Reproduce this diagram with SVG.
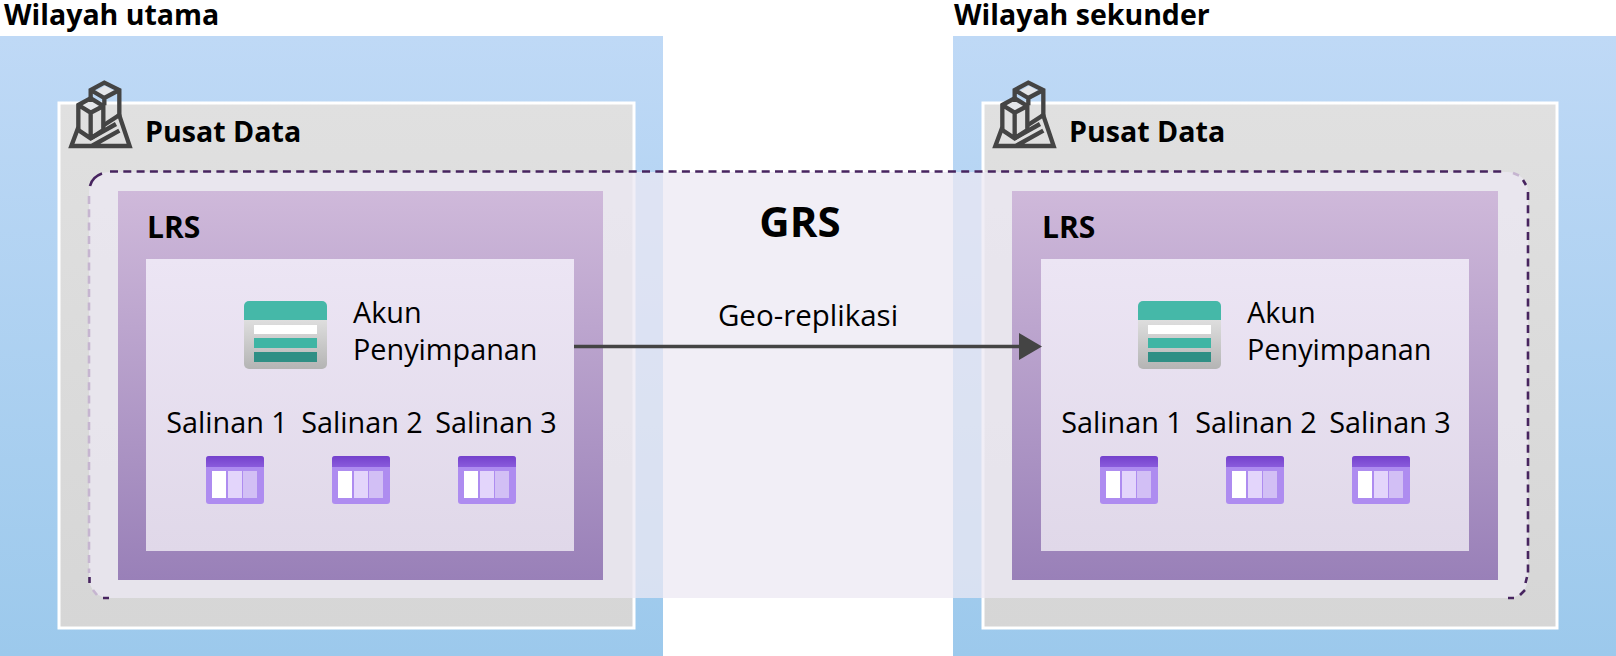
<svg xmlns="http://www.w3.org/2000/svg" width="1616" height="656" viewBox="0 0 1616 656">
<style>
text{font-family:"Open Sans","Noto Sans","Liberation Sans",sans-serif;fill:#000}
.h{font-size:28.5px;font-weight:700}
.b{font-size:28.6px;font-weight:700}
.l{font-size:30px;font-weight:700}
.t{font-size:28.8px}
.dc{fill:none;stroke:#444;stroke-width:13;stroke-linejoin:miter}
.dk{fill:none;stroke:#47245f;stroke-width:2.6}
.fd{fill:none;stroke:#c6b5d0;stroke-width:2.6}
.ds{stroke-dasharray:8 5.3}
</style>
<defs>
<linearGradient id="blue" x1="0" y1="0" x2="0" y2="1"><stop offset="0" stop-color="#bfd9f6"/><stop offset="1" stop-color="#9cc9ec"/></linearGradient>
<linearGradient id="purple" x1="0" y1="0" x2="0" y2="1"><stop offset="0" stop-color="#cfb9da"/><stop offset="1" stop-color="#9980b8"/></linearGradient>
<linearGradient id="inner" x1="0" y1="0" x2="0" y2="1"><stop offset="0" stop-color="#ece5f4"/><stop offset="1" stop-color="#e0d8e9"/></linearGradient>
<linearGradient id="grey" x1="0" y1="0" x2="0" y2="1"><stop offset="0" stop-color="#e0e0e0"/><stop offset="1" stop-color="#d6d6d6"/></linearGradient>
<linearGradient id="body" x1="0" y1="0" x2="0" y2="1"><stop offset="0" stop-color="#e2e2e2"/><stop offset="1" stop-color="#b4b4b4"/></linearGradient>
<linearGradient id="hdr" x1="0" y1="0" x2="0" y2="1"><stop offset="0" stop-color="#7441cc"/><stop offset="1" stop-color="#8a5bdc"/></linearGradient>
<g id="dc" transform="translate(50 70) scale(.3333)">
<path d="M135 65L165 47L195 65L165 80ZM98 108L122 92L148 108L122 122Z" fill="#e4e6ea"/>
<path class="dc" d="M122 96V60L163 38L208 60V135L162 165M122 60L163 84L208 60M163 84V106"/>
<path class="dc" d="M85 105L122 85L160 108V180L122 205L85 180ZM85 105L122 128L160 108M122 128V200"/>
<path class="dc" d="M85 172L64 228H239L206 130M125 228L208 182M122 205L198 162"/>
</g>
<g id="st">
<path d="M0 14H83V63a5 5 0 0 1-5 5H5a5 5 0 0 1-5-5Z" fill="url(#body)"/>
<path d="M0 19V5a5 5 0 0 1 5-5H78a5 5 0 0 1 5 5V19Z" fill="#45b8a8"/>
<rect x="10" y="24" width="63" height="9" fill="#fff"/>
<rect x="10" y="37" width="63" height="10" fill="#3fb5a4"/>
<rect x="10" y="51" width="63" height="10" fill="#2f8f85"/>
</g>
<g id="tb">
<rect x="0" y="0" width="58" height="48" rx="3" fill="#ae8cf0"/>
<path d="M0 11V3a3 3 0 0 1 3-3H55a3 3 0 0 1 3 3V11Z" fill="url(#hdr)"/>
<rect x="6" y="15" width="14" height="27" fill="#fff"/>
<rect x="22" y="15" width="14" height="27" fill="#e3d5fb"/>
<rect x="37" y="15" width="14" height="27" fill="#d2bff5"/>
</g>
</defs>
<rect width="1616" height="656" fill="#fff"/>
<g id="wilayah-utama">
<rect x="0" y="36" width="663" height="620" fill="url(#blue)"/>
<text class="h" x="4" y="25">Wilayah utama</text>
</g>
<g id="wilayah-sekunder">
<rect x="953" y="36" width="663" height="620" fill="url(#blue)"/>
<text class="h" x="954" y="25">Wilayah sekunder</text>
</g>
<g id="pusat-data-1">
<rect x="59" y="103" width="575" height="525" fill="url(#grey)" stroke="#fff" stroke-width="3"/>
<use href="#dc"/>
<text class="b" x="145" y="142">Pusat Data</text>
</g>
<g id="pusat-data-2">
<rect x="983" y="103" width="574" height="525" fill="url(#grey)" stroke="#fff" stroke-width="3"/>
<use href="#dc" x="924"/>
<text class="b" x="1069" y="142">Pusat Data</text>
</g>
<g id="grs">
<rect x="89" y="172" width="1439" height="426" rx="20" fill="#ece8f3" fill-opacity=".74"/>
<path class="dk ds" d="M110 171.500H1506"/>
<path class="dk ds" d="M1528 192V573"/>
<path class="dk" d="M90 186Q92 177 102 173.500M1523 180L1526 185M1527 577L1525.500 583M1525 590L1520 595M1508 598H1514M89.500 577V583M103 598H109"/>
<path class="fd ds" d="M89 196V573"/>
<path class="fd" d="M1513 173L1519 175.500M93 590L97 595"/>
<text x="800" y="237" text-anchor="middle" font-size="42" font-weight="700">GRS</text>
</g>
<g id="lrs-1">
<rect x="118" y="191" width="485" height="389" fill="url(#purple)"/>
<rect x="146" y="259" width="428" height="292" fill="url(#inner)"/>
<text class="l" x="147" y="238">LRS</text>
</g>
<g id="lrs-2">
<rect x="1012" y="191" width="486" height="389" fill="url(#purple)"/>
<rect x="1041" y="259" width="428" height="292" fill="url(#inner)"/>
<text class="l" x="1042" y="238">LRS</text>
</g>
<g id="akun-1"><use href="#st" x="244" y="301"/><text class="t" x="353" y="323">Akun</text><text class="t" x="353" y="360">Penyimpanan</text></g>
<g id="akun-2"><use href="#st" x="1138" y="301"/><text class="t" x="1247" y="323">Akun</text><text class="t" x="1247" y="360">Penyimpanan</text></g>
<g id="salinan-1-1"><text class="t" x="227" y="433" text-anchor="middle">Salinan 1</text><use href="#tb" x="206" y="456"/></g>
<g id="salinan-1-2"><text class="t" x="362" y="433" text-anchor="middle">Salinan 2</text><use href="#tb" x="332" y="456"/></g>
<g id="salinan-1-3"><text class="t" x="496" y="433" text-anchor="middle">Salinan 3</text><use href="#tb" x="458" y="456"/></g>
<g id="salinan-2-1"><text class="t" x="1122" y="433" text-anchor="middle">Salinan 1</text><use href="#tb" x="1100" y="456"/></g>
<g id="salinan-2-2"><text class="t" x="1256" y="433" text-anchor="middle">Salinan 2</text><use href="#tb" x="1226" y="456"/></g>
<g id="salinan-2-3"><text class="t" x="1390" y="433" text-anchor="middle">Salinan 3</text><use href="#tb" x="1352" y="456"/></g>
<g id="connectors">
<path d="M574 346.500H1020" stroke="#444" stroke-width="3.500" fill="none"/>
<path d="M1019 333L1042 346.500L1019 360Z" fill="#444"/>
</g>
<text x="808" y="326" text-anchor="middle" font-size="29.500">Geo-replikasi</text>
</svg>
